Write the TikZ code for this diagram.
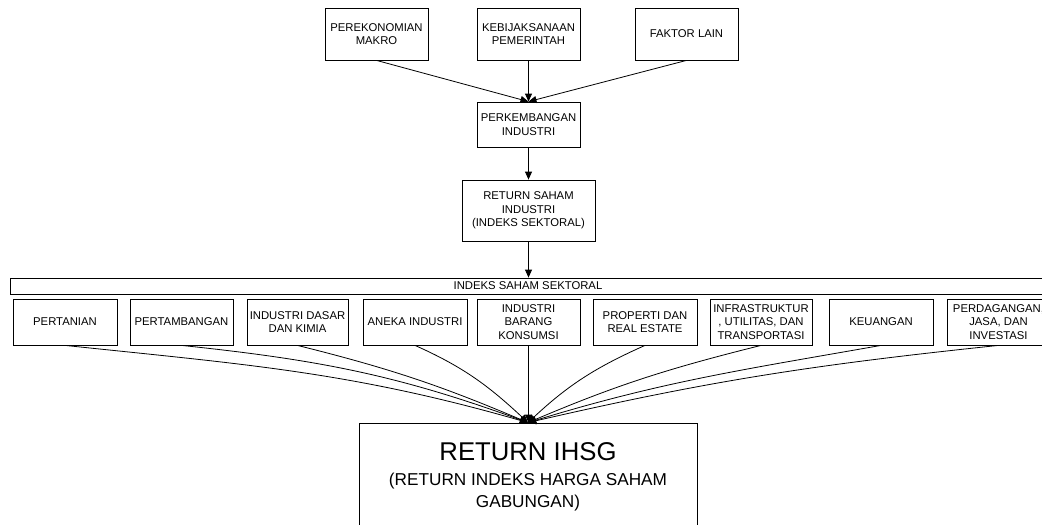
\documentclass[tikz,border=0pt]{standalone}
\usepackage{fontspec}
\setmainfont{Liberation Sans}
\usetikzlibrary{arrows.meta}
\begin{document}
\begin{tikzpicture}[x=1pt,y=-1pt,
  box/.style={draw,line width=0.8pt,align=center,inner sep=1pt,
    font=\fontsize{11.3}{13.6}\selectfont},
  arr/.style={line width=0.8pt,-{Triangle[length=8pt,width=7pt]}}]
\useasboundingbox (0,0) rectangle (1042,525);
\clip (0,0) rectangle (1042,525);
% top
\node[box,minimum width=103pt,minimum height=52pt] (makro) at (376.5,34) {PEREKONOMIAN\\MAKRO};
\node[box,minimum width=103pt,minimum height=52pt] (kebij) at (528.5,34) {KEBIJAKSANAAN\\PEMERINTAH};
\node[box,minimum width=103pt,minimum height=52pt] (faktor) at (686.5,34) {FAKTOR LAIN};
\node[box,minimum width=103pt,minimum height=45pt] (perkemb) at (528.5,124.5) {PERKEMBANGAN\\INDUSTRI};
\node[box,minimum width=133pt,minimum height=61pt] (retsaham) at (528.5,210.5) {RETURN SAHAM\\INDUSTRI\\(INDEKS SEKTORAL)};
\node[box,minimum width=1036pt,minimum height=16pt] (bar) at (528,286) {INDEKS SAHAM SEKTORAL};
% sectors
\node[box,minimum width=104pt,minimum height=46pt] (s1) at (65,322) {PERTANIAN};
\node[box,minimum width=103pt,minimum height=46pt] (s2) at (181.5,322) {PERTAMBANGAN};
\node[box,minimum width=101pt,minimum height=46pt] (s3) at (297.5,322) {INDUSTRI DASAR\\DAN KIMIA};
\node[box,minimum width=104pt,minimum height=46pt] (s4) at (415,322) {ANEKA INDUSTRI};
\node[box,minimum width=103pt,minimum height=46pt] (s5) at (528.5,322) {INDUSTRI\\BARANG\\KONSUMSI};
\node[box,minimum width=104pt,minimum height=46pt] (s6) at (645,322) {PROPERTI DAN\\REAL ESTATE};
\node[box,minimum width=102pt,minimum height=46pt] (s7) at (761,322) {INFRASTRUKTUR\\, UTILITAS, DAN\\TRANSPORTASI};
\node[box,minimum width=104pt,minimum height=46pt] (s8) at (881,322) {KEUANGAN};
\node[box,minimum width=103pt,minimum height=46pt] (s9) at (998.5,322) {PERDAGANGAN,\\JASA, DAN\\INVESTASI};
% result
\node[draw,line width=0.8pt,align=center,minimum width=338pt,minimum height=108pt,
  font=\fontsize{17.2}{21.8}\selectfont] (ihsg) at (528,477)
  {{\fontsize{25.7}{28}\selectfont RETURN IHSG}\\[3pt](RETURN INDEKS HARGA SAHAM\\GABUNGAN)};
% connectors
\draw[arr] (makro.south) -- (perkemb.north);
\draw[arr] (kebij.south) -- (perkemb.north);
\draw[arr] (faktor.south) -- (perkemb.north);
\draw[arr] (perkemb.south) -- (retsaham.north);
\draw[arr] (retsaham.south) -- (retsaham.south |- bar.north);
\draw[arr] (s1.south) to[out=-6,in=164] (ihsg.north);
\draw[arr] (s2.south) to[out=-6,in=160] (ihsg.north);
\draw[arr] (s3.south) to[out=-14,in=157] (ihsg.north);
\draw[arr] (s4.south) to[out=-24,in=137] (ihsg.north);
\draw[arr] (s5.south) -- (s5.south |- ihsg.north);
\draw[arr] (s6.south) to[out=204,in=43] (ihsg.north);
\draw[arr] (s7.south) to[out=194,in=23] (ihsg.north);
\draw[arr] (s8.south) to[out=190,in=17] (ihsg.north);
\draw[arr] (s9.south) to[out=186,in=13] (ihsg.north);
\end{tikzpicture}
\end{document}
